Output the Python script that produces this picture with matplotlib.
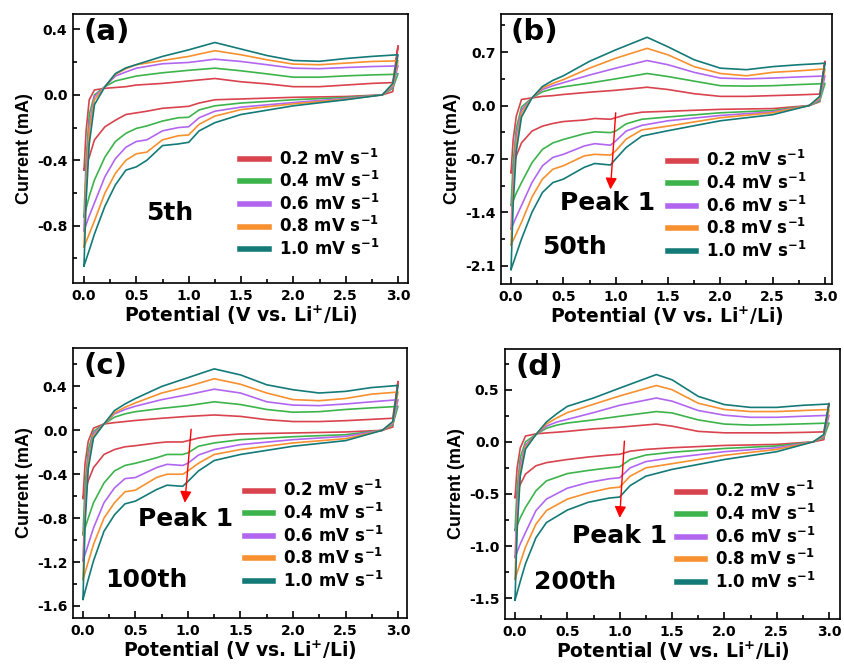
import numpy as np
import matplotlib.pyplot as plt
from matplotlib.ticker import MultipleLocator

plt.rcParams['font.family'] = ['DejaVu Sans']
plt.rcParams['font.weight'] = 'bold'
plt.rcParams['mathtext.fontset'] = 'dejavusans'
plt.rcParams['mathtext.default'] = 'bf'
plt.rcParams['axes.unicode_minus'] = False

rates = ["0.2", "0.4", "0.6", "0.8", "1.0"]
colors = ['#d8434e', '#3cb44b', '#b266f0', '#f7902e', '#137a78']

# ---- panel (a), 5th cycle ----
a_up_x = [0.0, 0.02, 0.05, 0.1, 0.2, 0.3, 0.4, 0.5, 0.75, 1.0, 1.25, 1.5, 1.75, 2.0, 2.25, 2.5, 2.75, 2.95, 3.0]
a_up = [
    [-0.46, -0.22, -0.03, 0.03, 0.04, 0.045, 0.05, 0.06, 0.07, 0.085, 0.10, 0.08, 0.067, 0.05, 0.05, 0.06, 0.07, 0.075, 0.30],
    [-0.745, -0.40, -0.12, 0.0, 0.05, 0.085, 0.10, 0.115, 0.135, 0.15, 0.163, 0.147, 0.128, 0.108, 0.108, 0.116, 0.122, 0.125, 0.13],
    [-0.83, -0.48, -0.18, -0.01, 0.05, 0.115, 0.14, 0.163, 0.19, 0.198, 0.218, 0.204, 0.184, 0.163, 0.16, 0.167, 0.173, 0.176, 0.18],
    [-0.93, -0.55, -0.22, -0.03, 0.05, 0.125, 0.16, 0.184, 0.21, 0.235, 0.27, 0.245, 0.214, 0.188, 0.184, 0.194, 0.204, 0.207, 0.21],
    [-1.045, -0.65, -0.30, -0.06, 0.05, 0.13, 0.165, 0.185, 0.235, 0.275, 0.32, 0.28, 0.24, 0.21, 0.205, 0.222, 0.235, 0.243, 0.245],
]
a_dn_x = [3.0, 2.95, 2.85, 2.5, 2.0, 1.5, 1.25, 1.1, 1.0, 0.9, 0.75, 0.6, 0.5, 0.4, 0.3, 0.2, 0.1, 0.05, 0.0]
a_dn = [
    [0.30, 0.02, 0.0, -0.01, -0.015, -0.025, -0.03, -0.05, -0.07, -0.075, -0.082, -0.10, -0.11, -0.12, -0.155, -0.195, -0.275, -0.38, -0.46],
    [0.13, 0.04, 0.0, -0.016, -0.03, -0.05, -0.067, -0.092, -0.137, -0.14, -0.16, -0.19, -0.205, -0.235, -0.285, -0.38, -0.52, -0.62, -0.745],
    [0.18, 0.05, 0.0, -0.022, -0.047, -0.075, -0.10, -0.14, -0.195, -0.20, -0.22, -0.275, -0.285, -0.32, -0.39, -0.50, -0.66, -0.74, -0.83],
    [0.21, 0.06, 0.0, -0.027, -0.055, -0.09, -0.13, -0.18, -0.245, -0.25, -0.275, -0.35, -0.36, -0.40, -0.48, -0.60, -0.77, -0.85, -0.93],
    [0.245, 0.07, 0.0, -0.03, -0.067, -0.12, -0.17, -0.22, -0.29, -0.30, -0.31, -0.40, -0.44, -0.46, -0.55, -0.68, -0.85, -0.95, -1.045],
]

# ---- panel (b), 50th cycle ----
b_up_x = [0.0, 0.02, 0.05, 0.1, 0.2, 0.3, 0.4, 0.5, 0.75, 1.0, 1.3, 1.5, 1.75, 2.0, 2.25, 2.5, 2.75, 2.95, 3.0]
b_up = [
    [-0.88, -0.45, -0.14, 0.08, 0.10, 0.12, 0.13, 0.145, 0.175, 0.20, 0.24, 0.21, 0.155, 0.12, 0.12, 0.13, 0.14, 0.15, 0.58],
    [-1.31, -0.75, -0.30, -0.02, 0.10, 0.18, 0.22, 0.245, 0.295, 0.35, 0.42, 0.38, 0.32, 0.26, 0.255, 0.26, 0.275, 0.285, 0.29],
    [-1.62, -0.95, -0.40, -0.06, 0.10, 0.21, 0.26, 0.30, 0.40, 0.49, 0.59, 0.535, 0.435, 0.36, 0.35, 0.36, 0.375, 0.385, 0.39],
    [-1.83, -1.10, -0.50, -0.10, 0.10, 0.23, 0.29, 0.34, 0.49, 0.62, 0.75, 0.665, 0.51, 0.42, 0.39, 0.435, 0.455, 0.475, 0.48],
    [-2.15, -1.30, -0.60, -0.15, 0.10, 0.25, 0.33, 0.39, 0.58, 0.73, 0.895, 0.77, 0.60, 0.49, 0.47, 0.51, 0.535, 0.55, 0.556],
]
b_dn_x = [3.0, 2.95, 2.85, 2.5, 2.0, 1.5, 1.25, 1.1, 1.0, 0.95, 0.8, 0.7, 0.5, 0.4, 0.3, 0.2, 0.1, 0.05, 0.0]
b_dn = [
    [0.58, 0.05, 0.0, -0.04, -0.05, -0.075, -0.087, -0.12, -0.16, -0.18, -0.17, -0.19, -0.21, -0.235, -0.27, -0.335, -0.49, -0.66, -0.88],
    [0.29, 0.06, 0.0, -0.065, -0.095, -0.15, -0.18, -0.24, -0.335, -0.355, -0.345, -0.37, -0.445, -0.49, -0.575, -0.75, -1.01, -1.15, -1.31],
    [0.39, 0.08, 0.0, -0.083, -0.13, -0.20, -0.26, -0.335, -0.465, -0.52, -0.50, -0.53, -0.64, -0.68, -0.79, -1.01, -1.31, -1.46, -1.62],
    [0.48, 0.10, 0.0, -0.095, -0.16, -0.27, -0.32, -0.44, -0.595, -0.65, -0.64, -0.66, -0.79, -0.835, -0.965, -1.20, -1.53, -1.68, -1.83],
    [0.556, 0.12, 0.0, -0.12, -0.20, -0.33, -0.40, -0.55, -0.70, -0.78, -0.76, -0.81, -0.965, -1.01, -1.14, -1.40, -1.75, -1.95, -2.15],
]

# ---- panel (c), 100th cycle ----
c_up_x = [0.0, 0.02, 0.05, 0.1, 0.2, 0.3, 0.4, 0.5, 0.75, 1.0, 1.25, 1.5, 1.75, 2.0, 2.25, 2.5, 2.75, 2.95, 3.0]
c_up = [
    [-0.62, -0.30, -0.10, 0.02, 0.058, 0.07, 0.08, 0.09, 0.11, 0.127, 0.14, 0.127, 0.097, 0.08, 0.08, 0.088, 0.10, 0.11, 0.445],
    [-0.95, -0.50, -0.18, -0.01, 0.058, 0.12, 0.15, 0.17, 0.20, 0.225, 0.26, 0.235, 0.19, 0.165, 0.17, 0.19, 0.205, 0.215, 0.22],
    [-1.19, -0.65, -0.25, -0.03, 0.058, 0.15, 0.19, 0.22, 0.28, 0.325, 0.375, 0.34, 0.26, 0.23, 0.225, 0.24, 0.26, 0.275, 0.28],
    [-1.36, -0.75, -0.30, -0.05, 0.058, 0.16, 0.21, 0.25, 0.34, 0.40, 0.47, 0.42, 0.34, 0.28, 0.27, 0.29, 0.33, 0.345, 0.35],
    [-1.54, -0.85, -0.35, -0.07, 0.058, 0.18, 0.24, 0.29, 0.40, 0.48, 0.56, 0.505, 0.415, 0.37, 0.34, 0.355, 0.39, 0.405, 0.41],
]
c_dn_x = [3.0, 2.95, 2.85, 2.5, 2.0, 1.5, 1.25, 1.1, 1.0, 0.95, 0.8, 0.7, 0.5, 0.4, 0.3, 0.2, 0.1, 0.05, 0.0]
c_dn = [
    [0.445, 0.03, 0.0, -0.015, -0.024, -0.033, -0.05, -0.07, -0.094, -0.106, -0.106, -0.115, -0.14, -0.15, -0.175, -0.22, -0.34, -0.46, -0.62],
    [0.22, 0.05, 0.0, -0.04, -0.058, -0.085, -0.115, -0.145, -0.205, -0.22, -0.22, -0.25, -0.30, -0.32, -0.37, -0.48, -0.66, -0.80, -0.95],
    [0.28, 0.06, 0.0, -0.055, -0.085, -0.13, -0.175, -0.225, -0.30, -0.32, -0.31, -0.34, -0.43, -0.44, -0.525, -0.66, -0.89, -1.04, -1.19],
    [0.35, 0.07, 0.0, -0.076, -0.115, -0.175, -0.22, -0.30, -0.37, -0.40, -0.40, -0.43, -0.545, -0.56, -0.66, -0.80, -1.04, -1.20, -1.36],
    [0.41, 0.08, 0.0, -0.094, -0.145, -0.22, -0.275, -0.37, -0.465, -0.51, -0.50, -0.54, -0.645, -0.67, -0.77, -0.92, -1.19, -1.36, -1.54],
]

# ---- panel (d), 200th cycle ----
d_up_x = [0.0, 0.02, 0.05, 0.1, 0.2, 0.3, 0.4, 0.5, 0.75, 1.0, 1.35, 1.5, 1.75, 2.0, 2.25, 2.5, 2.75, 2.95, 3.0]
d_up = [
    [-0.535, -0.25, -0.06, 0.055, 0.076, 0.085, 0.092, 0.10, 0.124, 0.14, 0.17, 0.15, 0.10, 0.086, 0.086, 0.086, 0.09, 0.095, 0.37],
    [-0.85, -0.45, -0.15, 0.0, 0.07, 0.13, 0.16, 0.18, 0.21, 0.245, 0.29, 0.277, 0.21, 0.17, 0.16, 0.165, 0.172, 0.178, 0.18],
    [-1.11, -0.60, -0.22, -0.03, 0.07, 0.15, 0.19, 0.215, 0.28, 0.35, 0.42, 0.39, 0.30, 0.255, 0.235, 0.235, 0.245, 0.252, 0.255],
    [-1.32, -0.72, -0.28, -0.05, 0.07, 0.17, 0.23, 0.28, 0.36, 0.44, 0.54, 0.50, 0.37, 0.31, 0.29, 0.29, 0.30, 0.308, 0.31],
    [-1.52, -0.85, -0.33, -0.07, 0.07, 0.19, 0.27, 0.34, 0.42, 0.515, 0.645, 0.595, 0.436, 0.357, 0.33, 0.33, 0.35, 0.36, 0.363],
]
d_dn_x = [3.0, 2.95, 2.85, 2.5, 2.0, 1.5, 1.25, 1.1, 1.0, 0.9, 0.7, 0.5, 0.3, 0.2, 0.1, 0.05, 0.0]
d_dn = [
    [0.37, 0.02, 0.0, -0.025, -0.035, -0.057, -0.073, -0.09, -0.12, -0.127, -0.146, -0.17, -0.20, -0.23, -0.31, -0.41, -0.535],
    [0.18, 0.04, 0.0, -0.04, -0.064, -0.10, -0.127, -0.17, -0.24, -0.25, -0.275, -0.305, -0.375, -0.47, -0.63, -0.73, -0.85],
    [0.255, 0.05, 0.0, -0.057, -0.095, -0.153, -0.19, -0.25, -0.345, -0.355, -0.39, -0.445, -0.55, -0.66, -0.87, -0.98, -1.11],
    [0.31, 0.06, 0.0, -0.073, -0.13, -0.21, -0.25, -0.33, -0.435, -0.445, -0.49, -0.55, -0.66, -0.79, -1.01, -1.16, -1.32],
    [0.363, 0.07, 0.0, -0.095, -0.17, -0.265, -0.33, -0.42, -0.53, -0.54, -0.58, -0.655, -0.775, -0.92, -1.17, -1.34, -1.52],
]

panels = [
    dict(tag="(a)", cycle="5th", up_x=a_up_x, up=a_up, dn_x=a_dn_x, dn=a_dn,
         rect=[0.0864, 0.5763, 0.3964, 0.4027], xlim=(-0.105, 3.095), ylim=(-1.15, 0.494),
         major=0.4, minor=0.2, cyc_xy=(0.82, -0.725), peak=None, leg=(0.50, 0.50)),
    dict(tag="(b)", cycle="50th", up_x=b_up_x, up=b_up, dn_x=b_dn_x, dn=b_dn,
         rect=[0.5929, 0.5749, 0.3917, 0.4041], xlim=(-0.096, 3.067), ylim=(-2.34, 1.2),
         major=0.7, minor=0.35, cyc_xy=(0.61, -1.86),
         peak=((1.0, -0.096), (0.95, -1.10), (0.92, -1.28)), leg=(0.505, 0.495)),
    dict(tag="(c)", cycle="100th", up_x=c_up_x, up=c_up, dn_x=c_dn_x, dn=c_dn,
         rect=[0.0864, 0.0749, 0.3953, 0.4041], xlim=(-0.095, 3.086), ylim=(-1.71, 0.75),
         major=0.4, minor=0.2, cyc_xy=(0.60, -1.36),
         peak=((1.03, 0.01), (0.97, -0.66), (0.98, -0.81)), leg=(0.515, 0.51)),
    dict(tag="(d)", cycle="200th", up_x=d_up_x, up=d_up, dn_x=d_dn_x, dn=d_dn,
         rect=[0.5976, 0.0734, 0.3965, 0.4041], xlim=(-0.096, 3.105), ylim=(-1.70, 0.89),
         major=0.5, minor=0.25, cyc_xy=(0.57, -1.35),
         peak=((1.045, 0.006), (1.0, -0.73), (1.0, -0.90)), leg=(0.513, 0.51)),
]

fig = plt.figure(figsize=(8.45, 6.68), dpi=100)

for p in panels:
    ax = fig.add_axes(p["rect"])
    for i in range(5):
        ax.plot(p["up_x"] + p["dn_x"], p["up"][i] + p["dn"][i], color=colors[i], lw=1.2,
                label=rates[i] + r" mV s$^{-1}$")
    ax.set_xlim(*p["xlim"])
    ax.set_ylim(*p["ylim"])
    ax.xaxis.set_major_locator(MultipleLocator(0.5))
    ax.xaxis.set_minor_locator(MultipleLocator(0.25))
    ax.yaxis.set_major_locator(MultipleLocator(p["major"]))
    ax.yaxis.set_minor_locator(MultipleLocator(p["minor"]))
    ax.yaxis.set_major_formatter(plt.FormatStrFormatter('%.1f'))
    ax.tick_params(which='both', direction='in', width=1.2, labelsize=10, pad=4)
    ax.tick_params(which='major', length=5)
    ax.tick_params(which='minor', length=3)
    for s in ax.spines.values():
        s.set_linewidth(1.2)
    ax.set_xlabel(r"Potential (V vs. Li$^{+}$/Li)", fontsize=13.5, fontweight='bold', labelpad=1)
    ax.set_ylabel("Current (mA)", fontsize=13, fontweight='bold', labelpad=3,
                  family=['Liberation Sans', 'DejaVu Sans'])
    ax.text(0.03, 0.985, p["tag"], transform=ax.transAxes, fontsize=21, fontweight='bold',
            ha='left', va='top')
    ax.text(*p["cyc_xy"], p["cycle"], fontsize=18, fontweight='bold', ha='center', va='center')
    if p["peak"] is not None:
        start, tip, txt = p["peak"]
        ax.annotate('', xy=tip, xytext=start,
                    arrowprops=dict(arrowstyle='-|>', color='red', lw=1.0, mutation_scale=17,
                                    shrinkA=0, shrinkB=0))
        ax.text(*txt, "Peak 1", fontsize=18, fontweight='bold', ha='center', va='center')
    leg = ax.legend(loc='upper left', bbox_to_anchor=p["leg"], frameon=False, fontsize=12,
                    handlelength=1.7, handletextpad=0.6, labelspacing=0.15, borderpad=0,
                    borderaxespad=0)
    for h in leg.get_lines():
        h.set_linewidth(4)

fig.savefig("out.png", dpi=100)
